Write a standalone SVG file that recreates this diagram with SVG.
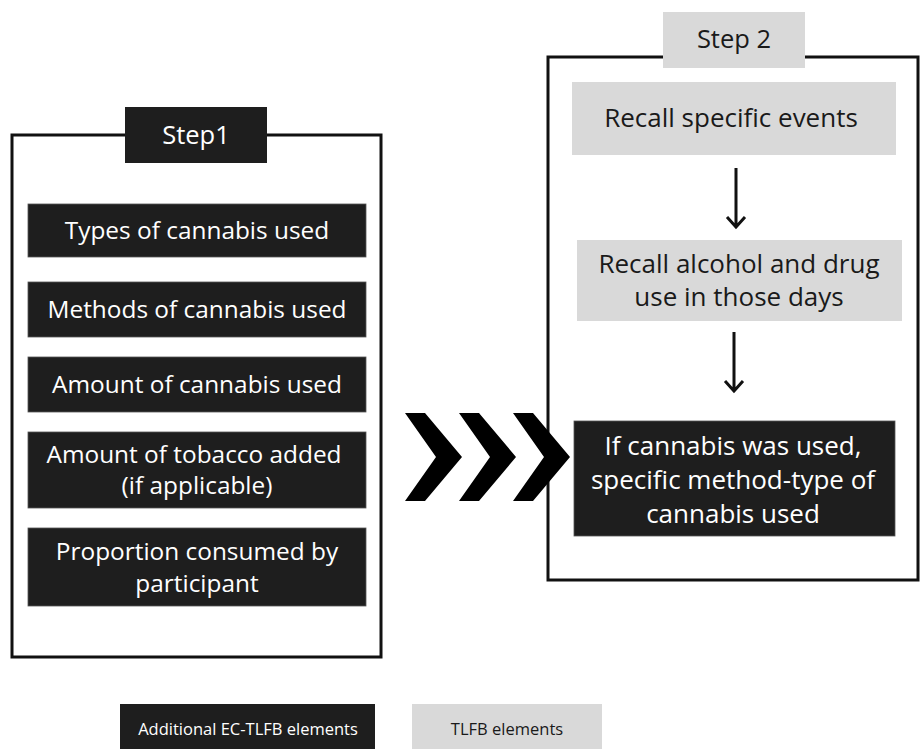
<svg xmlns="http://www.w3.org/2000/svg" width="920" height="749" viewBox="0 0 920 749">
<style>
.frame{fill:none;stroke:#111;stroke-width:3}
.dark{fill:#1e1e1e;stroke:#555;stroke-width:0.8}
.light{fill:#d9d9d9}
.tw{font-family:"Open Sans","Liberation Sans",sans-serif;font-size:24.4px;fill:#fff;text-anchor:middle}
.tr{font-family:"Open Sans","Liberation Sans",sans-serif;font-size:26px;text-anchor:middle}
.ts{font-family:"Open Sans","Liberation Sans",sans-serif;font-size:25.5px;text-anchor:middle}
.lg{font-family:"Open Sans","Liberation Sans",sans-serif;font-size:16.5px;text-anchor:middle}
.arr{stroke:#111;stroke-width:3;fill:none}
</style>
<rect width="920" height="749" fill="#fff"/>
<g id="step1">
<rect class="frame" x="12" y="135" width="369" height="522"/>
<rect x="125" y="107" width="142" height="56" fill="#1e1e1e"/>
<text class="ts" x="196" y="144" fill="#fff">Step1</text>
</g>
<g id="types"><rect class="dark" x="28" y="204" width="338" height="53"/><text class="tw" x="197" y="239">Types of cannabis used</text></g>
<g id="methods"><rect class="dark" x="28" y="282" width="338" height="55"/><text class="tw" x="197" y="318">Methods of cannabis used</text></g>
<g id="amount"><rect class="dark" x="28" y="357" width="338" height="55"/><text class="tw" x="197" y="393">Amount of cannabis used</text></g>
<g id="tobacco"><rect class="dark" x="28" y="432" width="338" height="76"/><text class="tw" x="194" y="463">Amount of tobacco added</text><text class="tw" x="197" y="494">(if applicable)</text></g>
<g id="proportion"><rect class="dark" x="28" y="528" width="338" height="78"/><text class="tw" x="197" y="560">Proportion consumed by</text><text class="tw" x="197" y="592">participant</text></g>
<g id="step2">
<rect class="frame" x="548" y="57" width="370" height="523"/>
<rect class="light" x="663" y="12" width="142" height="56"/>
<text class="ts" x="734" y="48" fill="#1a1a1a">Step 2</text>
</g>
<g id="recall-events"><rect class="light" x="572" y="82" width="324" height="73"/><text class="tr" x="731" y="127" fill="#1a1a1a">Recall specific events</text></g>
<g id="recall-use"><rect class="light" x="577" y="240" width="325" height="81"/><text class="tr" x="739" y="273" fill="#1a1a1a">Recall alcohol and drug</text><text class="tr" x="739" y="306" fill="#1a1a1a">use in those days</text></g>
<g id="method-type"><rect class="dark" x="574" y="421" width="321" height="115"/><text class="tr" x="733" y="455" fill="#fff">If cannabis was used,</text><text class="tr" x="733" y="489" fill="#fff">specific method-type of</text><text class="tr" x="733" y="523" fill="#fff">cannabis used</text></g>
<g id="connectors">
<path class="arr" d="M736 168V227M727 217L736 227L745 217"/>
<path class="arr" d="M734 332V391M725 381L734 391L743 381"/>
<g id="chevrons" fill="#000">
<polygon points="405,413 425,413 462,457 425,501 405,501 436,457"/>
<polygon points="459,413 479,413 516,457 479,501 459,501 490,457"/>
<polygon points="513,413 533,413 570,457 533,501 513,501 544,457"/>
</g>
</g>
<g id="legend">
<rect x="120" y="704" width="255" height="50" fill="#1e1e1e"/>
<text class="lg" x="248" y="735" fill="#fff">Additional EC-TLFB elements</text>
<rect x="412" y="704" width="190" height="50" fill="#d9d9d9"/>
<text class="lg" x="507" y="735" fill="#1a1a1a">TLFB elements</text>
</g>
</svg>
